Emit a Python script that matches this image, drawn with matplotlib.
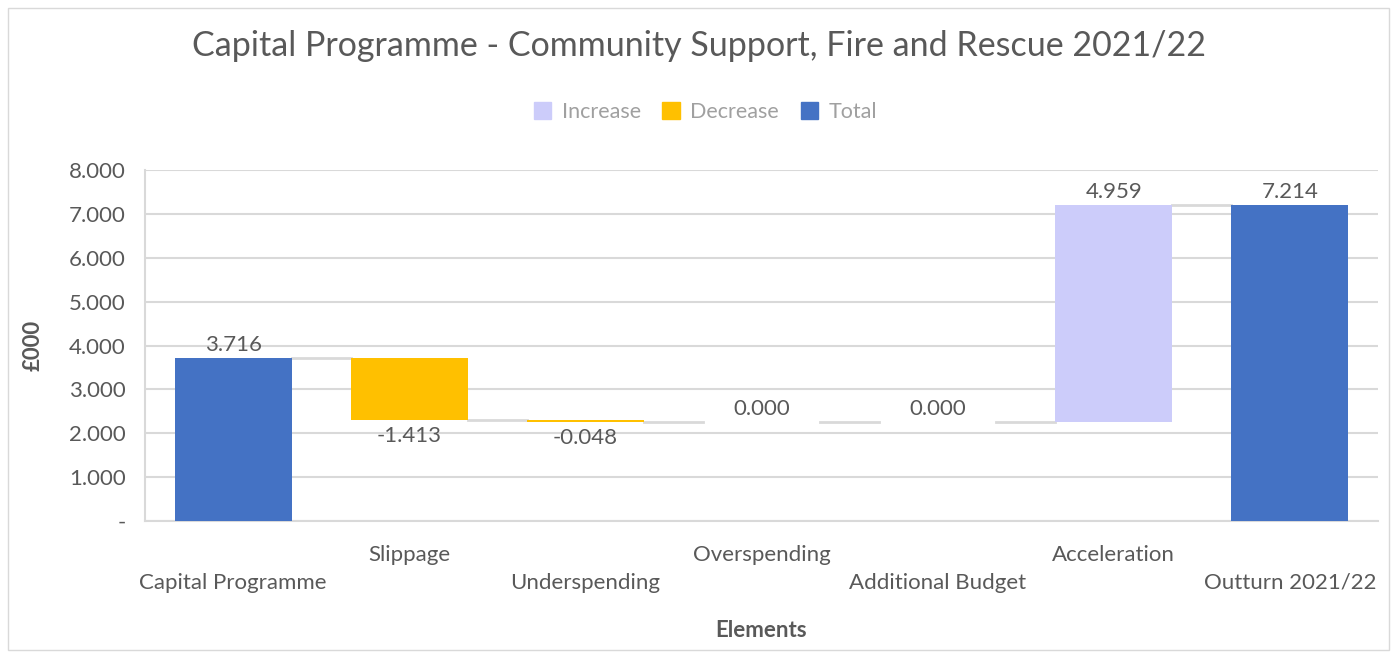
import numpy as np
import matplotlib.pyplot as plt
from matplotlib.patches import Patch, Rectangle

plt.rcParams['font.family'] = ['Lato', 'DejaVu Sans']

categories = ['Capital Programme', 'Slippage', 'Underspending', 'Overspending',
              'Additional Budget', 'Acceleration', 'Outturn 2021/22']
values = [3.716, -1.413, -0.048, 0.000, 0.000, 4.959, 7.214]
kinds = ['total', 'decrease', 'decrease', 'increase', 'increase', 'increase', 'total']

COLORS = {'increase': '#ccccfa', 'decrease': '#ffc000', 'total': '#4472c4'}
GRID = '#d9d9d9'
TXT = '#595959'

fig = plt.figure(figsize=(13.97, 6.52), dpi=100)
fig.patches.append(Rectangle((0.006, 0.003), 0.988, 0.984, transform=fig.transFigure,
                             fill=False, edgecolor='#d9d9d9', lw=1))
ax = fig.add_axes([0.1038, 0.201, 0.8826, 0.538])

x = np.arange(len(categories))
bar_w = 0.665
running = 0.0
bottoms, heights, tops = [], [], []
for v, k in zip(values, kinds):
    if k == 'total':
        b, h = 0.0, v
        running = v
    else:
        b = running if v >= 0 else running + v
        h = abs(v)
        running += v
    bottoms.append(b)
    heights.append(h)
    tops.append(running)

ax.bar(x, heights, bar_w, bottom=bottoms, color=[COLORS[k] for k in kinds], zorder=3)

# connectors between bars
for i in range(len(x) - 1):
    ax.plot([x[i] + bar_w / 2, x[i + 1] - bar_w / 2], [tops[i], tops[i]],
            color='#d9d9d9', lw=2, zorder=2)

# value labels
for i, (v, k) in enumerate(zip(values, kinds)):
    if v < 0:
        ax.annotate('%.3f' % v, (x[i], bottoms[i]), xytext=(0, -4), textcoords='offset points',
                    ha='center', va='top', fontsize=16, color=TXT)
    else:
        ax.annotate('%.3f' % v, (x[i], bottoms[i] + heights[i]), xytext=(0, 2),
                    textcoords='offset points', ha='center', va='bottom', fontsize=16, color=TXT)

ax.set_xlim(-0.5, 6.5)
ax.set_ylim(0, 8)
ax.set_yticks(np.arange(0, 9, 1))
ax.set_yticklabels(['-'] + ['%.3f' % t for t in range(1, 9)])
ax.set_xticks(x)
ax.set_xticklabels([c if i % 2 else '\n' + c for i, c in enumerate(categories)],
                   linespacing=1.5)
ax.tick_params(axis='both', length=0, labelsize=16, labelcolor=TXT)
ax.tick_params(axis='x', pad=17)
ax.tick_params(axis='y', pad=14)
ax.grid(axis='y', color=GRID, lw=1.5, zorder=0)
for s in ['top', 'right']:
    ax.spines[s].set_visible(False)
ax.spines['left'].set_color(GRID)
ax.spines['bottom'].set_color(GRID)
ax.spines['left'].set_linewidth(1.5)
ax.spines['bottom'].set_linewidth(1.5)

ax.set_ylabel('£000', fontsize=16, fontweight='bold', color=TXT, labelpad=18)
ax.set_xlabel('Elements', fontsize=16, fontweight='bold', color=TXT, labelpad=20)

fig.text(0.5, 0.93, 'Capital Programme - Community Support, Fire and Rescue 2021/22',
         ha='center', va='center', fontsize=24.5, color=TXT)

handles = [Patch(color=COLORS['increase'], label='Increase'),
           Patch(color=COLORS['decrease'], label='Decrease'),
           Patch(color=COLORS['total'], label='Total')]
leg = fig.legend(handles=handles, loc='center', bbox_to_anchor=(0.505, 0.828), ncol=3,
                 frameon=False, fontsize=15.5, handlelength=0.8, handleheight=0.8,
                 handletextpad=0.5, columnspacing=1.0)
for t in leg.get_texts():
    t.set_color('#a0a0a0')

fig.savefig('out.png', dpi=100)
